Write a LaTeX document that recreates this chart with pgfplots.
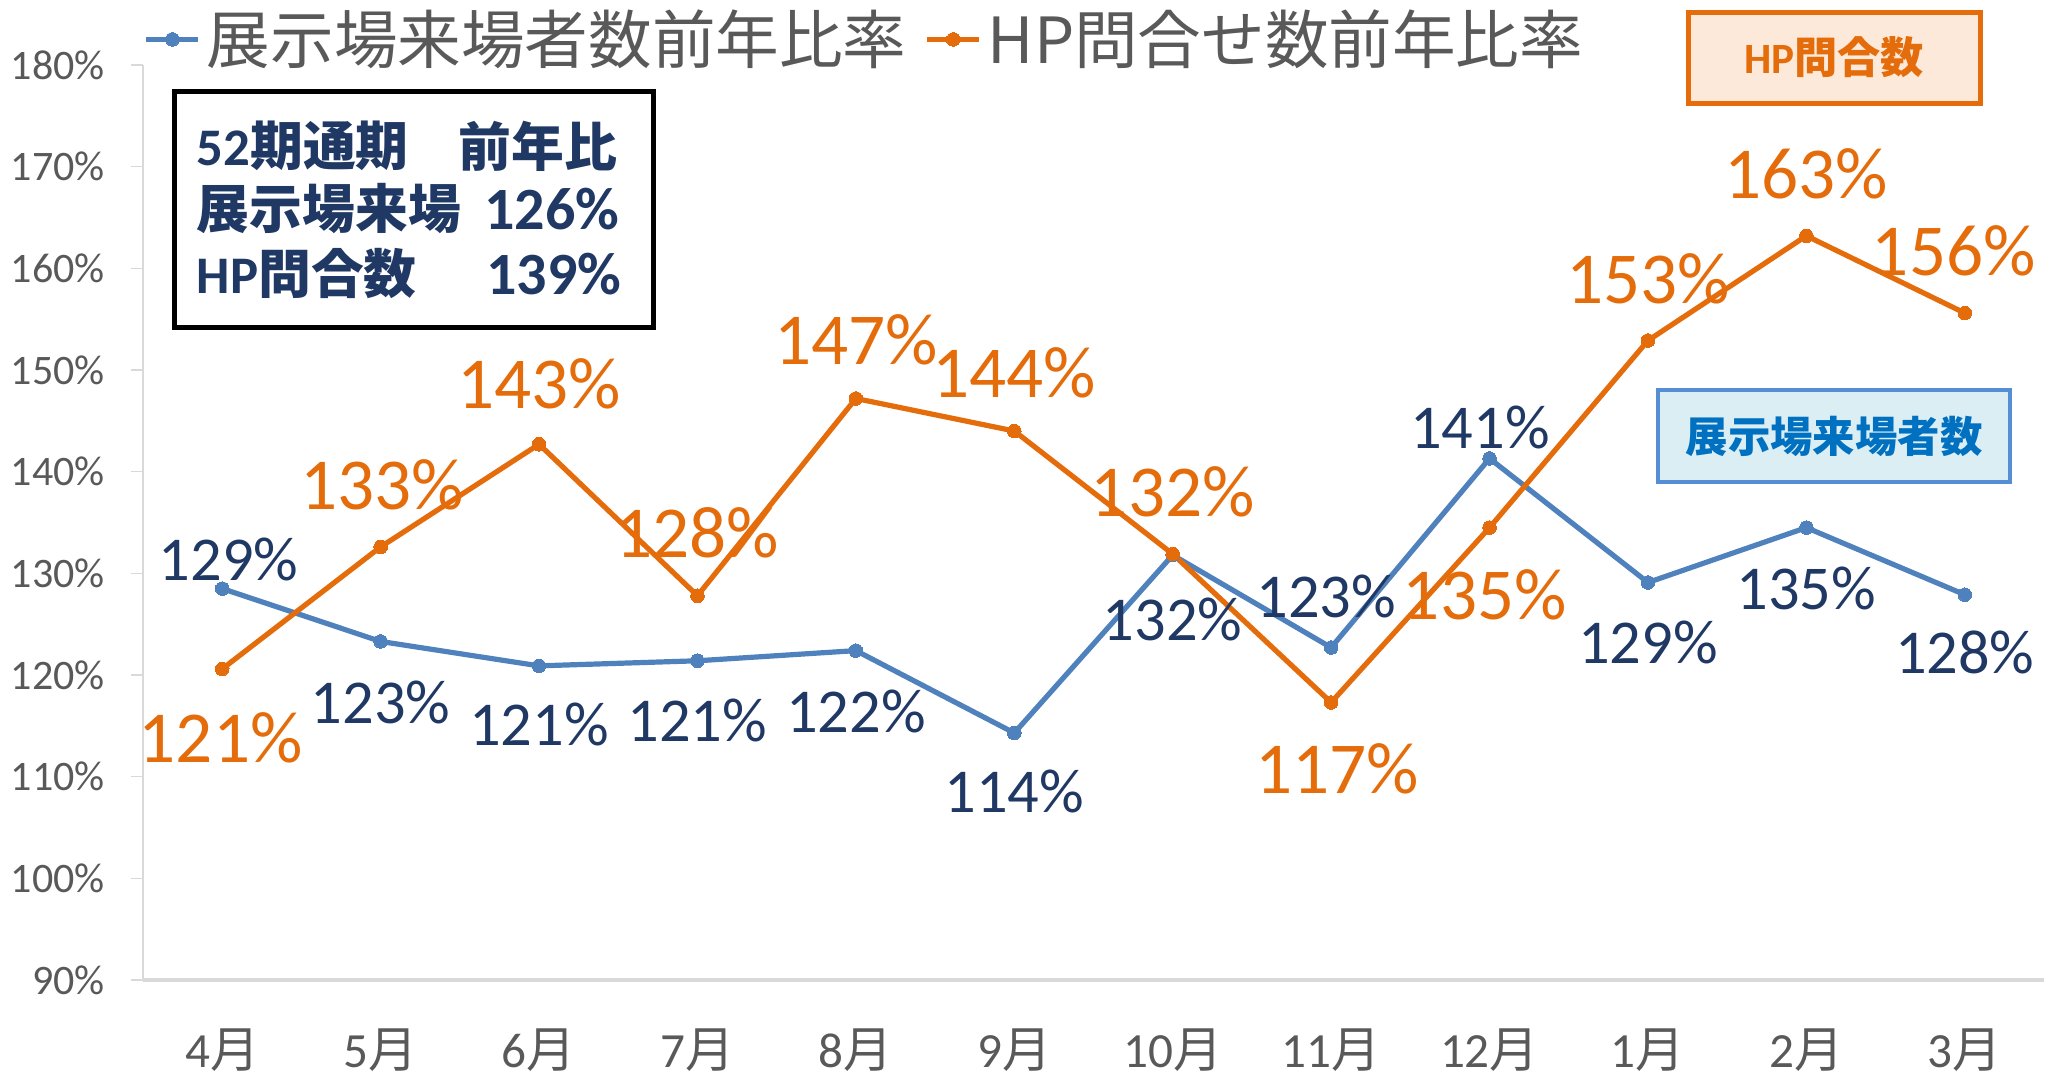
\documentclass[border=0pt]{standalone}
\usepackage{pgfplots}
\pgfplotsset{compat=1.18}
\usepackage{pgfplotstable}
\usepackage{fontspec}
\setmainfont{Carlito}
\newfontfamily\cjk{Noto Sans CJK JP}
\definecolor{cblue}{HTML}{4F81BD}
\definecolor{corange}{HTML}{E46C0A}
\definecolor{navy}{HTML}{203864}
\definecolor{tgray}{HTML}{595959}
\definecolor{agray}{HTML}{D9D9D9}
\definecolor{bfill}{HTML}{DBEEF4}
\definecolor{bborder}{HTML}{558ED5}
\definecolor{btext}{HTML}{0070C0}
\definecolor{ofill}{HTML}{FDE9D9}
\newcommand\M[1]{#1{\cjk 月}}

\pgfplotstableread{
x y
0 128.5
1 123.3
2 120.9
3 121.4
4 122.4
5 114.3
6 131.8
7 122.7
8 141.3
9 129.1
10 134.5
11 127.9
}\visitors

\pgfplotstableread{
x y
0 120.6
1 132.6
2 142.7
3 127.8
4 147.2
5 144.0
6 131.9
7 117.3
8 134.5
9 152.9
10 163.2
11 155.6
}\inquiries

\pgfplotstableread{
x y lab
0.04 131.4 129
1 117.3 123
2 115.1 121
3 115.5 121
4 116.4 122
5 108.5 114
6 125.5 132
6.97 127.7 123
7.94 144.3 141
9 123.2 129
10 128.5 135
11 122.2 128
}\visitorlabels

\pgfplotstableread{
x y lab
-0.01 113.8 121
1.01 138.7 133
2 148.6 143
3 134.0 128
4 153.0 147
5 149.7 144
6 138.0 132
7.04 110.8 117
7.97 127.9 135
9 159.0 153
10 169.3 163
10.93 161.7 156
}\inquirylabels

\begin{document}
\begin{tikzpicture}[x=1pt,y=1pt]
\useasboundingbox (0,0) rectangle (512,269);
\begin{axis}[
  at={(35.75pt,24pt)}, anchor=south west,
  scale only axis, width=475.25pt, height=228.75pt,
  xmin=-0.5, xmax=11.5, ymin=90, ymax=180,
  clip=false,
  axis x line*=bottom, axis y line*=left,
  x axis line style={draw=agray, line width=0.8pt, -},
  y axis line style={draw=agray, line width=0.4pt, -},
  xtick={0,...,11},
  xticklabels={\M4,\M5,\M6,\M7,\M8,\M9,\M{10},\M{11},\M{12},\M1,\M2,\M3},
  xtick style={draw=none},
  xticklabel style={font=\fontsize{12.3}{14}\selectfont, text=tgray, anchor=center, inner sep=0pt, yshift=-14.5pt},
  ytick={90,100,...,180},
  ytick style={draw=agray, line width=0.4pt},
  tick align=outside, major tick length=3pt,
  yticklabel={\pgfmathprintnumber{\tick}\%},
  yticklabel style={font=\fontsize{10.5}{12}\selectfont, text=tgray, xshift=-3pt},
  /pgf/number format/assume math mode=true,
  /pgf/number format/fixed, /pgf/number format/precision=0,
  legend columns=2,
  legend style={at={(0,1.028)}, anchor=west, draw=none, fill=none,
    font=\cjk\fontsize{15.9}{18}\selectfont, text=tgray,
    inner sep=0pt, nodes={inner sep=1.5pt},
    /tikz/every even column/.append style={column sep=3pt}},
  legend image code/.code={\draw[mark repeat=2,mark phase=2,#1] plot coordinates {(0pt,0pt) (6.5pt,0pt) (13pt,0pt)};},
]
\addplot[cblue, line width=1.3pt, mark=*, mark size=1.7pt, mark options={fill=cblue, draw=cblue, line width=0pt}] table[x=x,y=y] {\visitors};
\addlegendentry{展示場来場者数前年比率}
\addplot[corange, line width=1.3pt, mark=*, mark size=1.7pt, mark options={fill=corange, draw=corange, line width=0pt}] table[x=x,y=y] {\inquiries};
\addlegendentry{HP問合せ数前年比率}
\addplot[draw=none, mark=none, forget plot, nodes near coords={\pgfplotspointmeta\%}, point meta=explicit symbolic,
  every node near coord/.style={anchor=center, text=navy, font=\fontsize{15.6}{17}\selectfont, inner sep=0pt}]
  table[x=x,y=y,meta=lab] {\visitorlabels};
\addplot[draw=none, mark=none, forget plot, nodes near coords={\pgfplotspointmeta\%}, point meta=explicit symbolic,
  every node near coord/.style={anchor=center, text=corange, font=\fontsize{18.3}{20}\selectfont, inner sep=0pt}]
  table[x=x,y=y,meta=lab] {\inquirylabels};
\end{axis}
% summary box
\draw[black, line width=1.25pt, fill=white] (43.5,187.25) rectangle (163.25,246.25);
\begin{scope}[every node/.style={inner sep=0pt, text=navy, font=\bfseries\fontsize{13.2}{15}\selectfont}]
\node[anchor=west] at (49,232.5) {52{\cjk\bfseries 期通期}};
\node[anchor=east] at (154.5,232.5) {{\cjk\bfseries 前年比}};
\node[anchor=west] at (49,216.75) {{\cjk\bfseries 展示場来場}};
\node[anchor=east, font=\bfseries\fontsize{15}{16}\selectfont] at (155,216.75) {126\%};
\node[anchor=west] at (49,200.5) {HP{\cjk\bfseries 問合数}};
\node[anchor=east, font=\bfseries\fontsize{15}{16}\selectfont] at (155.5,200.5) {139\%};
\end{scope}
% HP box
\draw[corange, line width=1.25pt, fill=ofill] (422,243.25) rectangle (495,266);
\node[text=corange, font=\bfseries\fontsize{10.8}{12}\selectfont, inner sep=0pt] at (458.5,254.6) {HP{\cjk\bfseries 問合数}};
% visitors box
\draw[bborder, line width=1pt, fill=bfill] (414.5,148.5) rectangle (502.5,171.5);
\node[text=btext, font=\cjk\bfseries\fontsize{10.6}{12}\selectfont, inner sep=0pt] at (458.5,160) {展示場来場者数};
\end{tikzpicture}
\end{document}
